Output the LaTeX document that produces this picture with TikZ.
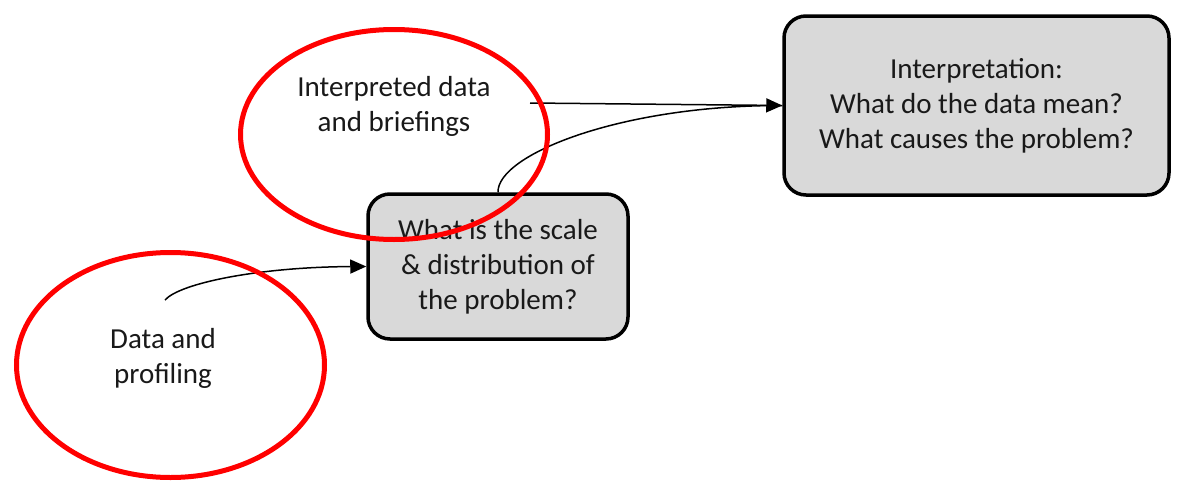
\documentclass[tikz,border=0pt]{standalone}
\usepackage{fontspec}
\setmainfont{Carlito}
\usetikzlibrary{shapes.geometric,arrows.meta}
\definecolor{boxgray}{HTML}{D9D9D9}
\definecolor{ringred}{HTML}{FF0000}
\begin{document}
\begin{tikzpicture}[x=1pt,y=-1pt,
  txt/.style={align=center, font=\fontsize{29}{35}\selectfont, text=black!90},
  qbox/.style={txt, draw, line width=3.5pt, fill=boxgray, rounded corners=22pt, inner sep=0pt},
  ring/.style={draw=ringred, line width=5pt, ellipse, inner sep=0pt},
  conn/.style={line width=1.5pt},
  arr/.style={conn, -{Triangle[length=16pt,width=14pt]}}]
\useasboundingbox (0,0) rectangle (1178,490);
% boxes
\node[qbox, minimum width=385pt, minimum height=179pt] (interp) at (976.5,105.5)
  {Interpretation:\\What do the data mean?\\What causes the problem?};
\node[qbox, minimum width=260pt, minimum height=145pt] (scale) at (498,266.5)
  {What is the scale\\\& distribution of\\the problem?};
% connectors
\coordinate (c1) at (530,103);
\coordinate (c2) at (165,300);
\draw[conn] (scale.north) .. controls (497,155) and (620,105) .. (interp.west);
\draw[arr] (c1) -- (interp.west);
\draw[arr] (c2) .. controls (180,283) and (260,267) .. (scale.west);
% red ellipses
\node[ring, minimum width=307pt, minimum height=210pt] (e1) at (394,134.5) {};
\node[ring, minimum width=308pt, minimum height=225pt] (e2) at (170.5,365) {};
% texts
\node[txt] (t1) at (394,106) {Interpreted data\\and briefings};
\node[txt] (t2) at (163,358) {Data and\\profiling};
\end{tikzpicture}
\end{document}
